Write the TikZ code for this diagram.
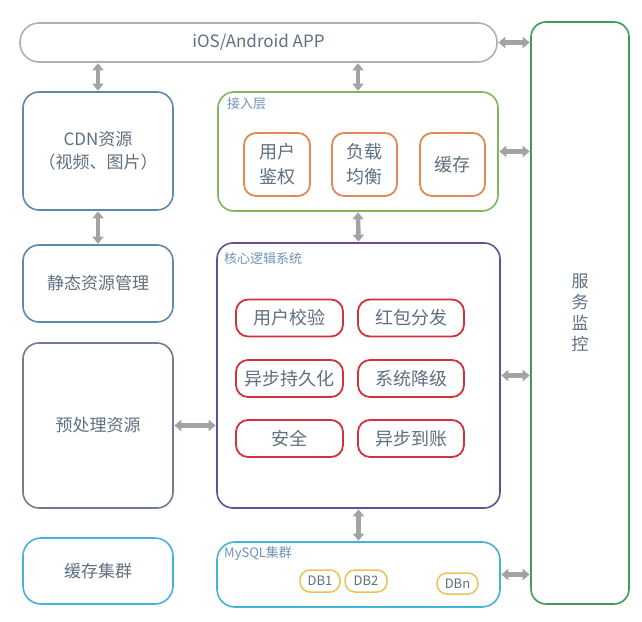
\documentclass[tikz,border=0pt]{standalone}
\usepackage{fontspec}
\setmainfont{Noto Sans CJK SC}
\usetikzlibrary{arrows.meta}
\definecolor{txt}{HTML}{5F6F80}
\definecolor{lbl}{HTML}{6F93B8}
\definecolor{grayb}{HTML}{B0B0B0}
\definecolor{blueb}{HTML}{5E88AE}
\definecolor{slateb}{HTML}{6E7E90}
\definecolor{cyanb}{HTML}{45B3D6}
\definecolor{greenb}{HTML}{82B65A}
\definecolor{orangeb}{HTML}{E08A55}
\definecolor{purpleb}{HTML}{6A4C96}
\definecolor{redb}{HTML}{D2323C}
\definecolor{yellowb}{HTML}{E8C25A}
\definecolor{monb}{HTML}{3E9E58}
\definecolor{arr}{HTML}{A3A3A3}
\tikzset{
  box/.style={draw, line width=1.6pt, inner sep=0pt, text=txt, align=center, font=\fontsize{17}{23}\selectfont},
  inbox/.style={box, line width=1.8pt, rounded corners=12pt, font=\fontsize{18}{25}\selectfont},
  lab/.style={anchor=west, text=lbl, inner sep=0pt, font=\fontsize{13}{15}\selectfont},
  dar/.style={draw=arr, line width=4.5pt, {Triangle[length=7pt,width=11pt]}-{Triangle[length=7pt,width=11pt]}, shorten <=0.5pt, shorten >=0.5pt},
}
\begin{document}
\begin{tikzpicture}[x=1pt,y=-1pt]
\useasboundingbox (0,0) rectangle (642,621);
\fill[white] (0,0) rectangle (642,621);
% main boxes
\node[box, draw=grayb, rounded corners=19pt, minimum width=477pt, minimum height=39pt] (app) at (258.5,42.5) {iOS/Android APP};
\node[box, draw=monb, rounded corners=15pt, minimum width=98pt, minimum height=582pt, font=\fontsize{17}{21}\selectfont] (mon) at (580,313) {服\\务\\监\\控};
\node[box, draw=blueb, rounded corners=16pt, minimum width=150pt, minimum height=118pt] (cdn) at (98,151) {CDN资源\\（视频、图片）};
\node[box, draw=blueb, rounded corners=16pt, minimum width=150pt, minimum height=77pt] (sta) at (98,283.5) {静态资源管理};
\node[box, draw=slateb, rounded corners=16pt, minimum width=150pt, minimum height=165pt] (pre) at (98,425.5) {预处理资源};
\node[box, draw=cyanb, rounded corners=18pt, minimum width=150pt, minimum height=66pt] (cch) at (98,571) {缓存集群};
\node[box, draw=greenb, rounded corners=16pt, minimum width=280pt, minimum height=119pt] (acc) at (358,151.5) {};
\node[box, draw=purpleb, rounded corners=16pt, minimum width=283pt, minimum height=265pt] (core) at (358.5,375.5) {};
\node[box, draw=cyanb, rounded corners=18pt, minimum width=283pt, minimum height=65pt] (sql) at (358.5,574.5) {};
% labels
\node[lab] (accl) at (227,104) {接入层};
\node[lab] (corel) at (224,259) {核心逻辑系统};
\node[lab] (sqll) at (224,554) {MySQL集群};
% access layer inner
\node[inbox, draw=orangeb, minimum width=66pt, minimum height=63pt] (a1) at (277,164.5) {用户\\鉴权};
\node[inbox, draw=orangeb, minimum width=65pt, minimum height=63pt] (a2) at (364.5,164.5) {负载\\均衡};
\node[inbox, draw=orangeb, minimum width=65pt, minimum height=63pt] (a3) at (452.5,164.5) {缓存};
% core inner
\node[inbox, draw=redb, minimum width=107pt, minimum height=37pt] (c1) at (289.5,318) {用户校验};
\node[inbox, draw=redb, minimum width=106pt, minimum height=37pt] (c2) at (411,318) {红包分发};
\node[inbox, draw=redb, minimum width=107pt, minimum height=37pt] (c3) at (289.5,378.5) {异步持久化};
\node[inbox, draw=redb, minimum width=106pt, minimum height=37pt] (c4) at (411,378.5) {系统降级};
\node[inbox, draw=redb, minimum width=107pt, minimum height=37pt] (c5) at (289.5,438.5) {安全};
\node[inbox, draw=redb, minimum width=106pt, minimum height=37pt] (c6) at (411,438.5) {异步到账};
% DBs
\node[box, draw=yellowb, line width=1.5pt, rounded corners=10pt, minimum width=40pt, minimum height=22pt, font=\fontsize{13}{15}\selectfont] (db1) at (320,581) {DB1};
\node[box, draw=yellowb, line width=1.5pt, rounded corners=10pt, minimum width=42pt, minimum height=22pt, font=\fontsize{13}{15}\selectfont] (db2) at (366,581) {DB2};
\node[box, draw=yellowb, line width=1.5pt, rounded corners=10pt, minimum width=41pt, minimum height=21pt, font=\fontsize{13}{15}\selectfont] (dbn) at (457.5,583.5) {DBn};
% arrows
\draw[dar] (cdn.north |- app.south) -- (cdn.north);
\draw[dar] (acc.north |- app.south) -- (acc.north);
\draw[dar] (cdn.south) -- (sta.north);
\draw[dar] (acc.south) -- (core.north);
\draw[dar] (core.south) -- (sql.north);
\draw[dar] (pre.east) -- (pre.east -| core.west);
\draw[dar] (app.east) -- (app.east -| mon.west);
\draw[dar] (acc.east) -- (acc.east -| mon.west);
\draw[dar] (core.east) -- (core.east -| mon.west);
\draw[dar] (sql.east) -- (sql.east -| mon.west);
\end{tikzpicture}
\end{document}
